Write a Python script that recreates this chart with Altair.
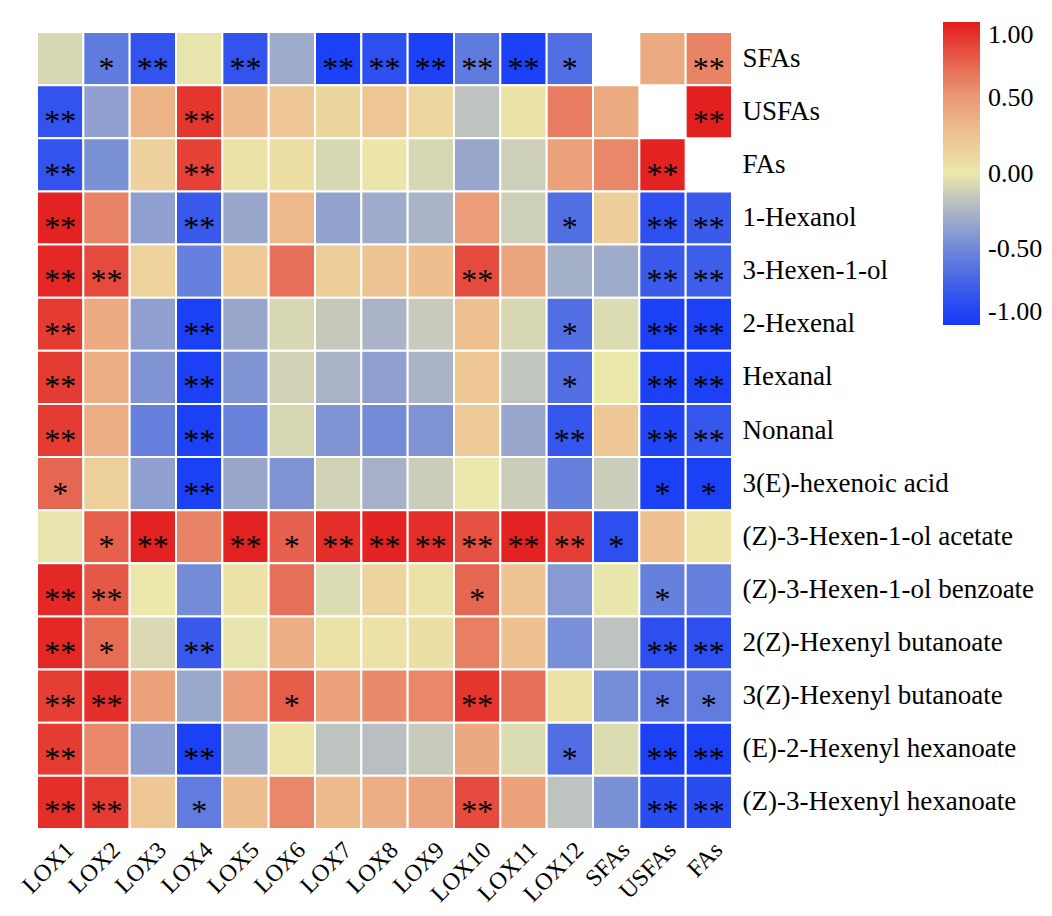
import altair as alt
import pandas as pd

rows = ["SFAs", "USFAs", "FAs", "1-Hexanol", "3-Hexen-1-ol", "2-Hexenal", "Hexanal",
        "Nonanal", "3(E)-hexenoic acid", "(Z)-3-Hexen-1-ol acetate",
        "(Z)-3-Hexen-1-ol benzoate", "2(Z)-Hexenyl butanoate", "3(Z)-Hexenyl butanoate",
        "(E)-2-Hexenyl hexanoate", "(Z)-3-Hexenyl hexanoate"]
cols = ["LOX1", "LOX2", "LOX3", "LOX4", "LOX5", "LOX6", "LOX7", "LOX8", "LOX9",
        "LOX10", "LOX11", "LOX12", "SFAs", "USFAs", "FAs"]

values = [
    [-0.08, -0.58, -0.82, -0.02, -0.82, -0.30, -0.95, -0.85, -0.95, -0.58, -0.95, -0.65, None, 0.40, 0.60],
    [-0.82, -0.37, 0.35, 0.90, 0.30, 0.22, 0.13, 0.23, 0.12, -0.18, 0.04, 0.63, 0.40, None, 0.98],
    [-0.82, -0.45, 0.16, 0.86, 0.05, 0.07, -0.08, 0.02, -0.08, -0.33, -0.12, 0.46, 0.58, 0.97, None],
    [0.97, 0.60, -0.37, -0.78, -0.33, 0.32, -0.35, -0.30, -0.25, 0.48, -0.12, -0.65, 0.18, -0.85, -0.77],
    [0.95, 0.83, 0.15, -0.55, 0.20, 0.68, 0.18, 0.25, 0.28, 0.82, 0.44, -0.28, -0.30, -0.77, -0.75],
    [0.88, 0.40, -0.37, -0.95, -0.33, -0.08, -0.15, -0.25, -0.14, 0.27, -0.08, -0.65, -0.06, -0.95, -0.95],
    [0.88, 0.38, -0.43, -0.95, -0.43, -0.10, -0.26, -0.37, -0.25, 0.22, -0.17, -0.65, 0.00, -0.95, -0.95],
    [0.88, 0.38, -0.55, -0.95, -0.53, -0.08, -0.43, -0.48, -0.43, 0.20, -0.33, -0.80, 0.22, -0.92, -0.80],
    [0.72, 0.17, -0.37, -0.95, -0.33, -0.43, -0.10, -0.27, -0.13, 0.00, -0.13, -0.55, -0.13, -0.95, -0.95],
    [-0.02, 0.75, 0.97, 0.60, 0.97, 0.74, 0.93, 0.97, 0.93, 0.80, 0.97, 0.87, -0.85, 0.27, 0.03],
    [0.95, 0.78, 0.00, -0.48, 0.04, 0.68, -0.06, 0.14, 0.04, 0.72, 0.25, -0.40, -0.01, -0.55, -0.55],
    [0.95, 0.70, -0.07, -0.78, -0.02, 0.38, 0.04, 0.04, 0.06, 0.62, 0.26, -0.46, -0.18, -0.85, -0.85],
    [0.87, 0.93, 0.46, -0.32, 0.48, 0.76, 0.46, 0.57, 0.58, 0.90, 0.68, 0.04, -0.47, -0.57, -0.57],
    [0.88, 0.58, -0.37, -0.95, -0.29, 0.03, -0.18, -0.20, -0.14, 0.41, -0.06, -0.65, -0.06, -0.95, -0.95],
    [0.93, 0.88, 0.22, -0.57, 0.28, 0.58, 0.30, 0.37, 0.44, 0.82, 0.46, -0.18, -0.45, -0.87, -0.87],
]

stars = [
    ["", "*", "**", "", "**", "", "**", "**", "**", "**", "**", "*", "", "", "**"],
    ["**", "", "", "**", "", "", "", "", "", "", "", "", "", "", "**"],
    ["**", "", "", "**", "", "", "", "", "", "", "", "", "", "**", ""],
    ["**", "", "", "**", "", "", "", "", "", "", "", "*", "", "**", "**"],
    ["**", "**", "", "", "", "", "", "", "", "**", "", "", "", "**", "**"],
    ["**", "", "", "**", "", "", "", "", "", "", "", "*", "", "**", "**"],
    ["**", "", "", "**", "", "", "", "", "", "", "", "*", "", "**", "**"],
    ["**", "", "", "**", "", "", "", "", "", "", "", "**", "", "**", "**"],
    ["*", "", "", "**", "", "", "", "", "", "", "", "", "", "*", "*"],
    ["", "*", "**", "", "**", "*", "**", "**", "**", "**", "**", "**", "*", "", ""],
    ["**", "**", "", "", "", "", "", "", "", "*", "", "", "", "*", ""],
    ["**", "*", "", "**", "", "", "", "", "", "", "", "", "", "**", "**"],
    ["**", "**", "", "", "", "*", "", "", "", "**", "", "", "", "*", "*"],
    ["**", "", "", "**", "", "", "", "", "", "", "", "*", "", "**", "**"],
    ["**", "**", "", "*", "", "", "", "", "", "**", "", "", "", "**", "**"],
]

color_stops = [-1.0, -0.75, -0.5, -0.25, 0.0, 0.25, 0.5, 0.75, 1.0]
color_range = ["#1438fa", "#3d5ee8", "#6f88da", "#abb4c6", "#ece8ac",
               "#eec392", "#ea9a76", "#e6604c", "#e31a1c"]
legend_values = [-1.0, -0.5, 0.0, 0.5, 1.0]

records = []
for i, r in enumerate(rows):
    for j, c in enumerate(cols):
        records.append({"row": r, "col": c, "value": values[i][j], "sig": stars[i][j]})
df = pd.DataFrame(records)

FONT = "Liberation Serif"

x_enc = alt.X("col:N", sort=cols, title=None,
              scale=alt.Scale(paddingInner=0, paddingOuter=0),
              axis=alt.Axis(orient="bottom", labelAngle=315, labelAlign="right",
                            labelBaseline="middle", labelFont=FONT, labelFontSize=24,
                            labelColor="black", ticks=False, domain=False,
                            labelPadding=17, labelOffset=10, labelLimit=0))
y_enc = alt.Y("row:N", sort=rows, title=None,
              scale=alt.Scale(paddingInner=0, paddingOuter=0),
              axis=alt.Axis(orient="right", labelFont=FONT, labelFontSize=27,
                            labelColor="black", ticks=False, domain=False,
                            labelPadding=10, labelLimit=0))

base = alt.Chart(df)

cells = base.transform_filter("isValid(datum.value)").mark_rect(
    stroke="white", strokeWidth=2
).encode(
    x=x_enc,
    y=y_enc,
    color=alt.Color("value:Q",
                    scale=alt.Scale(domain=color_stops, range=color_range,
                                    interpolate="rgb"),
                    legend=alt.Legend(orient="none", legendX=906, legendY=-10,
                                      direction="vertical", title=None,
                                      gradientLength=303, gradientThickness=37,
                                      gradientStrokeWidth=0,
                                      values=legend_values,
                                      labelExpr="replace(format(datum.value, '.2f'), '\u2212', '-')",
                                      labelFont=FONT, labelFontSize=26,
                                      labelColor="black", labelOffset=8,
                                      labelBaseline="middle", labelLimit=0,
                                      padding=0)),
)

marks = base.transform_filter("datum.sig != ''").mark_text(
    font=FONT, fontSize=32, color="black", baseline="middle", align="center", dy=10
).encode(
    x=alt.X("col:N", sort=cols),
    y=alt.Y("row:N", sort=rows),
    text="sig:N",
)

chart = alt.layer(cells, marks).properties(
    width=695, height=797,
    autosize=alt.AutoSizeParams(type="none"),
    padding={"left": 29, "top": 24, "right": 312, "bottom": 79},
).configure_view(stroke=None)

chart.save("out.html", embed_options={"renderer": "svg", "actions": False})
